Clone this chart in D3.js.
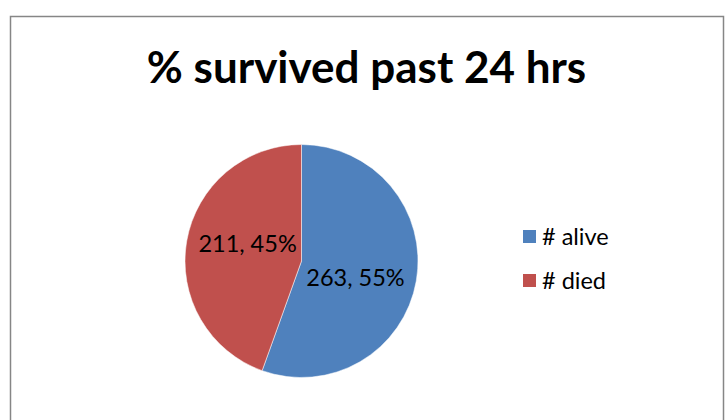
<!DOCTYPE html>
<meta charset="utf-8">
<style>
body { margin: 0; background: #fff; }
text { font-family: Lato, "Open Sans", sans-serif; fill: #000; }
.title { font-weight: bold; font-size: 44px; }
.label { font-size: 23.5px; }
.legend text { font-size: 23.5px; }
</style>
<svg width="728" height="420"></svg>
<script src="https://d3js.org/d3.v7.min.js"></script>
<script>

// chart data
var categories = ["# alive", "# died"];
var counts = [263, 211];
var colors = ["#4F81BD", "#C0504D"];
var titleText = "% survived past 24 hrs";

var svg = d3.select("svg"),
    width = +svg.attr("width"),
    height = +svg.attr("height");

// chart border
svg.append("rect")
    .attr("x", 10.5)
    .attr("y", 16.5)
    .attr("width", 713)
    .attr("height", 420)
    .attr("fill", "#fff")
    .attr("stroke", "#868686")
    .attr("stroke-width", 1.5);

svg.append("text")
    .attr("class", "title")
    .attr("x", 366.5)
    .attr("y", 83)
    .attr("text-anchor", "middle")
    .text(titleText);

var total = d3.sum(counts);
var data = categories.map(function(c, i) {
  return {name: c, value: counts[i], color: colors[i]};
});

var radius = 116.5;
var g = svg.append("g").attr("transform", "translate(301.5,261)");

var pie = d3.pie().sort(null).value(function(d) { return d.value; });
var arc = d3.arc().innerRadius(0).outerRadius(radius);
var labelArc = d3.arc().innerRadius(radius * 0.47).outerRadius(radius * 0.47);

g.selectAll("path")
    .data(pie(data))
    .enter().append("path")
      .attr("d", arc)
      .attr("fill", function(d) { return d.data.color; })
      .attr("stroke", "#fff")
      .attr("stroke-width", 0.5);

g.selectAll(".label")
    .data(pie(data))
    .enter().append("text")
      .attr("class", "label")
      .attr("transform", function(d) {
        var c = labelArc.centroid(d);
        return "translate(" + c[0] + "," + (c[1] * 1.8) + ")";
      })
      .attr("text-anchor", "middle")
      .attr("dy", "0.35em")
      .text(function(d) {
        return d.data.value + ", " + Math.round(d.data.value / total * 100) + "%";
      });

// legend
var legend = svg.append("g").attr("class", "legend")
    .attr("transform", "translate(523,230)");

var item = legend.selectAll("g")
    .data(data)
    .enter().append("g")
      .attr("transform", function(d, i) { return "translate(0," + (i * 44) + ")"; });

item.append("rect")
    .attr("width", 13)
    .attr("height", 13)
    .attr("fill", function(d) { return d.color; });

item.append("text")
    .attr("x", 19)
    .attr("y", 6.5)
    .attr("dy", "0.35em")
    .text(function(d) { return d.name; });

</script>
